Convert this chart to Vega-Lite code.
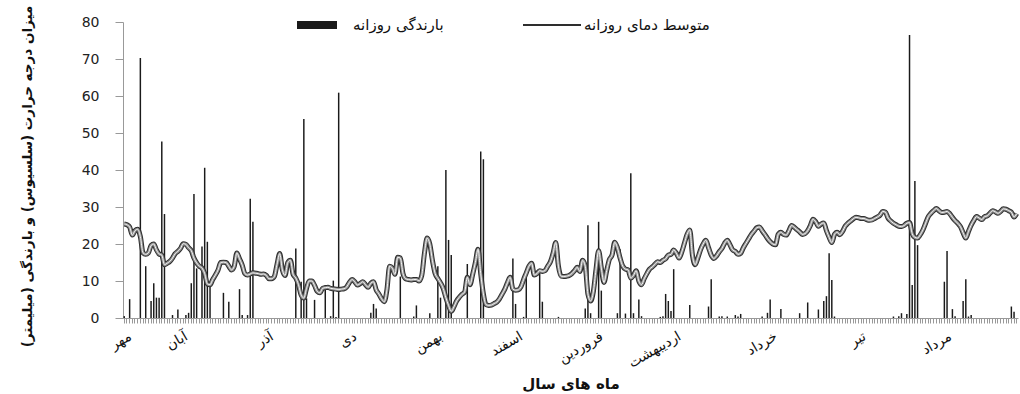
{
"$schema":"https://vega.github.io/schema/vega-lite/v6.json",
"autosize":"none","width":895,"height":296,
"padding":{"left":123,"top":22,"right":2,"bottom":76},
"background":"white",
"config":{"view":{"stroke":null},"font":"DejaVu Sans",
"axisY":{"values":[0,10,20,30,40,50,60,70,80],"labelOverlap":false,"grid":false,"domainColor":"#999","tickColor":"#999","tickSize":8,"labelPadding":16,
    "labelFont":"DejaVu Sans","labelFontSize":14,"labelColor":"#222",
    "titleFont":"DejaVu Sans","titleFontSize":13.5,"titleFontWeight":"bold","titleColor":"#111","titleX":-96,"titleY":154,"titleAlign":"center","titleBaseline":"middle","titleAngle":-90}},
"data":{"values":[
{"d":0,"t":25.4,"p":0.5},{"d":1,"t":25.2,"p":0},{"d":2,"t":24.6,"p":5.1},{"d":3,"t":22.4,"p":0},{"d":4,"t":23.6,"p":0},{"d":5,"t":24.0,"p":0},{"d":6,"t":22.0,"p":70.3},{"d":7,"t":17.6,"p":0},{"d":8,"t":17.2,"p":14},{"d":9,"t":17.6,"p":0},
{"d":10,"t":19.6,"p":4.6},{"d":11,"t":20.0,"p":9.4},{"d":12,"t":18.4,"p":5.5},{"d":13,"t":17.3,"p":5.5},{"d":14,"t":17.0,"p":47.7},{"d":15,"t":14.4,"p":28.1},{"d":16,"t":14.8,"p":0},{"d":17,"t":15.3,"p":0},{"d":18,"t":16.2,"p":0.8},{"d":19,"t":17.4,"p":0},
{"d":20,"t":18.0,"p":2.3},{"d":21,"t":18.8,"p":0},{"d":22,"t":20.1,"p":0},{"d":23,"t":19.9,"p":0.8},{"d":24,"t":19.0,"p":1.4},{"d":25,"t":18.2,"p":9.4},{"d":26,"t":16.2,"p":33.5},{"d":27,"t":14.9,"p":13.4},{"d":28,"t":14.0,"p":0},{"d":29,"t":13.5,"p":19.3},
{"d":30,"t":12.0,"p":40.6},{"d":31,"t":9.2,"p":20.6},{"d":32,"t":9.0,"p":9.5},{"d":33,"t":10.4,"p":0},{"d":34,"t":11.6,"p":0},{"d":35,"t":13.0,"p":0},{"d":36,"t":15.0,"p":0},{"d":37,"t":15.1,"p":6.8},{"d":38,"t":15.0,"p":0},{"d":39,"t":14.0,"p":4.4},
{"d":40,"t":13.0,"p":0},{"d":41,"t":13.9,"p":0},{"d":42,"t":17.6,"p":0},{"d":43,"t":16.0,"p":7.8},{"d":44,"t":14.3,"p":0.8},{"d":45,"t":12.0,"p":0},{"d":46,"t":11.6,"p":0.8},{"d":47,"t":11.9,"p":32.2},{"d":48,"t":12.2,"p":26},{"d":49,"t":12.1,"p":0},
{"d":50,"t":12.0,"p":0},{"d":51,"t":11.8,"p":0},{"d":52,"t":11.9,"p":0},{"d":53,"t":11.5,"p":0},{"d":54,"t":10.6,"p":0},{"d":55,"t":10.6,"p":0},{"d":56,"t":11.2,"p":0},{"d":57,"t":14.5,"p":0},{"d":58,"t":17.4,"p":0},{"d":59,"t":13.0,"p":0},
{"d":60,"t":11.5,"p":0},{"d":61,"t":15.0,"p":0},{"d":62,"t":15.6,"p":0},{"d":63,"t":11.8,"p":0},{"d":64,"t":10.8,"p":18.8},{"d":65,"t":9.0,"p":0},{"d":66,"t":6.2,"p":9.8},{"d":67,"t":5.4,"p":53.8},{"d":68,"t":8.0,"p":5.3},{"d":69,"t":10.0,"p":0},
{"d":70,"t":10.0,"p":0},{"d":71,"t":8.8,"p":4.9},{"d":72,"t":7.2,"p":0},{"d":73,"t":6.8,"p":0},{"d":74,"t":8.0,"p":0},{"d":75,"t":8.2,"p":8.9},{"d":76,"t":8.3,"p":0},{"d":77,"t":8.0,"p":0.5},{"d":78,"t":7.9,"p":10.1},{"d":79,"t":7.8,"p":0.3},
{"d":80,"t":7.7,"p":60.9},{"d":81,"t":7.8,"p":0},{"d":82,"t":7.9,"p":0},{"d":83,"t":8.4,"p":0},{"d":84,"t":9.6,"p":0},{"d":85,"t":10.4,"p":0},{"d":86,"t":9.8,"p":0},{"d":87,"t":8.9,"p":0},{"d":88,"t":9.3,"p":0},{"d":89,"t":9.8,"p":0},
{"d":90,"t":9.0,"p":0},{"d":91,"t":8.3,"p":0},{"d":92,"t":9.4,"p":1.4},{"d":93,"t":9.8,"p":3.8},{"d":94,"t":7.6,"p":2.6},{"d":95,"t":6.5,"p":0},{"d":96,"t":5.2,"p":0},{"d":97,"t":4.4,"p":0},{"d":98,"t":7.6,"p":0},{"d":99,"t":14.0,"p":0},
{"d":100,"t":13.5,"p":0},{"d":101,"t":11.8,"p":0},{"d":102,"t":16.4,"p":0},{"d":103,"t":16.2,"p":11.2},{"d":104,"t":12.0,"p":0},{"d":105,"t":10.6,"p":0},{"d":106,"t":10.4,"p":0},{"d":107,"t":10.3,"p":0},{"d":108,"t":10.4,"p":0.4},{"d":109,"t":10.4,"p":3.4},
{"d":110,"t":10.0,"p":0},{"d":111,"t":11.5,"p":0},{"d":112,"t":17.5,"p":0},{"d":113,"t":21.6,"p":0},{"d":114,"t":20.0,"p":1.3},{"d":115,"t":15.5,"p":0},{"d":116,"t":12.0,"p":0},{"d":117,"t":10.7,"p":14},{"d":118,"t":9.5,"p":5.5},{"d":119,"t":8.0,"p":0},
{"d":120,"t":5.5,"p":40},{"d":121,"t":3.4,"p":21.1},{"d":122,"t":1.8,"p":17},{"d":123,"t":3.0,"p":0},{"d":124,"t":4.6,"p":0},{"d":125,"t":5.6,"p":0},{"d":126,"t":6.4,"p":0},{"d":127,"t":7.0,"p":0},{"d":128,"t":11.0,"p":14.6},{"d":129,"t":9.0,"p":0},
{"d":130,"t":11.8,"p":0},{"d":131,"t":15.0,"p":0},{"d":132,"t":18.6,"p":0},{"d":133,"t":12.0,"p":45},{"d":134,"t":6.5,"p":42.9},{"d":135,"t":3.6,"p":0},{"d":136,"t":3.4,"p":0},{"d":137,"t":3.5,"p":0},{"d":138,"t":3.9,"p":0},{"d":139,"t":4.3,"p":0},
{"d":140,"t":5.2,"p":0},{"d":141,"t":6.5,"p":0},{"d":142,"t":7.8,"p":0},{"d":143,"t":9.6,"p":0},{"d":144,"t":11.0,"p":0},{"d":145,"t":7.8,"p":16.1},{"d":146,"t":7.5,"p":3.8},{"d":147,"t":7.6,"p":0},{"d":148,"t":8.4,"p":0},{"d":149,"t":10.4,"p":0.3},
{"d":150,"t":12.2,"p":13},{"d":151,"t":14.0,"p":0},{"d":152,"t":14.8,"p":0},{"d":153,"t":11.6,"p":0},{"d":154,"t":12.0,"p":0},{"d":155,"t":12.8,"p":12.1},{"d":156,"t":12.6,"p":4.4},{"d":157,"t":12.8,"p":0},{"d":158,"t":14.0,"p":0},{"d":159,"t":15.2,"p":0},
{"d":160,"t":17.5,"p":0},{"d":161,"t":20.4,"p":0},{"d":162,"t":14.0,"p":0.3},{"d":163,"t":11.3,"p":0},{"d":164,"t":11.2,"p":0},{"d":165,"t":11.3,"p":0},{"d":166,"t":11.5,"p":0},{"d":167,"t":12.0,"p":0},{"d":168,"t":12.8,"p":0},{"d":169,"t":13.7,"p":0},
{"d":170,"t":12.6,"p":0},{"d":171,"t":15.6,"p":0},{"d":172,"t":14.0,"p":2.6},{"d":173,"t":6.5,"p":25.1},{"d":174,"t":4.6,"p":1.3},{"d":175,"t":7.0,"p":0},{"d":176,"t":13.0,"p":0},{"d":177,"t":18.2,"p":26},{"d":178,"t":13.5,"p":7.4},{"d":179,"t":9.6,"p":0},
{"d":180,"t":12.8,"p":0},{"d":181,"t":15.8,"p":0},{"d":182,"t":17.0,"p":0},{"d":183,"t":20.5,"p":0},{"d":184,"t":19.0,"p":1.3},{"d":185,"t":16.2,"p":18.6},{"d":186,"t":14.0,"p":0},{"d":187,"t":13.2,"p":1.2},{"d":188,"t":13.0,"p":0},{"d":189,"t":10.8,"p":39.1},
{"d":190,"t":11.5,"p":1.3},{"d":191,"t":12.8,"p":0},{"d":192,"t":10.0,"p":5},{"d":193,"t":9.0,"p":0.5},{"d":194,"t":10.6,"p":0},{"d":195,"t":12.0,"p":0},{"d":196,"t":13.2,"p":0},{"d":197,"t":13.8,"p":0},{"d":198,"t":14.5,"p":0},{"d":199,"t":15.2,"p":0},
{"d":200,"t":15.0,"p":0.3},{"d":201,"t":15.6,"p":0.5},{"d":202,"t":16.0,"p":6.5},{"d":203,"t":17.0,"p":4.6},{"d":204,"t":17.2,"p":1.9},{"d":205,"t":18.4,"p":13.2},{"d":206,"t":17.5,"p":0},{"d":207,"t":16.2,"p":0},{"d":208,"t":17.8,"p":0},{"d":209,"t":20.2,"p":0},
{"d":210,"t":22.6,"p":0},{"d":211,"t":23.8,"p":3.5},{"d":212,"t":17.0,"p":0},{"d":213,"t":14.4,"p":0},{"d":214,"t":16.2,"p":0},{"d":215,"t":18.4,"p":0},{"d":216,"t":20.0,"p":0},{"d":217,"t":21.0,"p":0},{"d":218,"t":19.0,"p":3.1},{"d":219,"t":17.0,"p":10.5},
{"d":220,"t":16.1,"p":0},{"d":221,"t":16.8,"p":0},{"d":222,"t":17.9,"p":0.4},{"d":223,"t":18.8,"p":0.5},{"d":224,"t":20.2,"p":0},{"d":225,"t":21.0,"p":0.4},{"d":226,"t":19.8,"p":0},{"d":227,"t":18.4,"p":0},{"d":228,"t":18.0,"p":0.8},{"d":229,"t":17.2,"p":0.4},
{"d":230,"t":17.5,"p":1.1},{"d":231,"t":19.0,"p":0},{"d":232,"t":20.2,"p":0},{"d":233,"t":21.4,"p":0},{"d":234,"t":22.6,"p":0},{"d":235,"t":23.5,"p":0},{"d":236,"t":24.4,"p":0},{"d":237,"t":24.6,"p":0},{"d":238,"t":23.6,"p":0.4},{"d":239,"t":22.6,"p":0},
{"d":240,"t":21.5,"p":1.4},{"d":241,"t":20.6,"p":5},{"d":242,"t":20.0,"p":0},{"d":243,"t":19.8,"p":0},{"d":244,"t":22.6,"p":0},{"d":245,"t":23.2,"p":2.4},{"d":246,"t":22.6,"p":0},{"d":247,"t":22.4,"p":0},{"d":248,"t":23.6,"p":0},{"d":249,"t":25.0,"p":0},
{"d":250,"t":24.5,"p":0},{"d":251,"t":23.9,"p":0},{"d":252,"t":23.3,"p":1.3},{"d":253,"t":22.6,"p":0},{"d":254,"t":22.8,"p":0},{"d":255,"t":23.6,"p":4.2},{"d":256,"t":25.0,"p":0},{"d":257,"t":26.7,"p":0},{"d":258,"t":26.0,"p":0},{"d":259,"t":24.8,"p":2.3},
{"d":260,"t":25.4,"p":0},{"d":261,"t":25.7,"p":4.6},{"d":262,"t":23.6,"p":5.9},{"d":263,"t":21.8,"p":17.5},{"d":264,"t":20.4,"p":10.3},{"d":265,"t":22.6,"p":0.4},{"d":266,"t":23.2,"p":0},{"d":267,"t":22.5,"p":0},{"d":268,"t":23.4,"p":0},{"d":269,"t":24.8,"p":0},
{"d":270,"t":25.6,"p":0},{"d":271,"t":26.2,"p":0},{"d":272,"t":26.8,"p":0},{"d":273,"t":27.2,"p":0},{"d":274,"t":27.1,"p":0},{"d":275,"t":26.9,"p":0},{"d":276,"t":26.9,"p":0},{"d":277,"t":26.6,"p":0},{"d":278,"t":26.4,"p":0},{"d":279,"t":26.5,"p":0},
{"d":280,"t":26.9,"p":0},{"d":281,"t":27.3,"p":0},{"d":282,"t":27.8,"p":0},{"d":283,"t":28.8,"p":0},{"d":284,"t":28.6,"p":0},{"d":285,"t":27.0,"p":0},{"d":286,"t":26.2,"p":0},{"d":287,"t":25.6,"p":0.4},{"d":288,"t":25.2,"p":0},{"d":289,"t":24.8,"p":0.5},
{"d":290,"t":24.7,"p":1.3},{"d":291,"t":25.0,"p":0},{"d":292,"t":25.6,"p":1.1},{"d":293,"t":25.8,"p":76.5},{"d":294,"t":22.8,"p":8.9},{"d":295,"t":21.8,"p":37},{"d":296,"t":21.6,"p":19.7},{"d":297,"t":22.5,"p":0},{"d":298,"t":23.8,"p":0},{"d":299,"t":25.6,"p":0},
{"d":300,"t":27.4,"p":0},{"d":301,"t":28.3,"p":0},{"d":302,"t":29.0,"p":0},{"d":303,"t":29.6,"p":0},{"d":304,"t":29.0,"p":0},{"d":305,"t":28.5,"p":0},{"d":306,"t":28.6,"p":9.8},{"d":307,"t":28.8,"p":18.1},{"d":308,"t":28.2,"p":0},{"d":309,"t":27.2,"p":2.4},
{"d":310,"t":26.3,"p":0.5},{"d":311,"t":25.6,"p":0},{"d":312,"t":24.7,"p":0},{"d":313,"t":23.0,"p":4.6},{"d":314,"t":21.6,"p":10.5},{"d":315,"t":23.4,"p":0.4},{"d":316,"t":25.1,"p":0.8},{"d":317,"t":26.4,"p":0},{"d":318,"t":27.4,"p":0},{"d":319,"t":27.0,"p":0},
{"d":320,"t":26.6,"p":0},{"d":321,"t":27.4,"p":0},{"d":322,"t":27.6,"p":0},{"d":323,"t":28.3,"p":0},{"d":324,"t":29.0,"p":0},{"d":325,"t":28.7,"p":0},{"d":326,"t":28.3,"p":0},{"d":327,"t":28.8,"p":0},{"d":328,"t":29.5,"p":0},{"d":329,"t":29.4,"p":0},
{"d":330,"t":29.0,"p":0},{"d":331,"t":28.6,"p":3.1},{"d":332,"t":27.3,"p":1.7},{"d":333,"t":28.2,"p":0}
]},
"encoding":{
"x":{"field":"d","type":"ordinal","title":"ماه های سال",
"scale":{"paddingInner":0.45,"paddingOuter":0.2},
"axis":{"labelExpr":"datum.value==1?'مهر':datum.value==22?'آبان':datum.value==54?'آذر':datum.value==85?'دی':datum.value==117?'بهمن':datum.value==147?'اسفند':datum.value==177?'فروردین':datum.value==206?'اردیبهشت':datum.value==242?'خرداد':datum.value==275?'تیر':datum.value==307?'مرداد':''",
"labelAngle":-30,"labelAlign":"right","labelBaseline":"top","labelOverlap":false,"labelBound":false,"labelFlush":false,
"labelFont":"DejaVu Sans","labelFontSize":14,"labelColor":"#111","labelPadding":6,
"tickSize":5,"tickColor":"#999","tickWidth":1,"domainColor":"#999","grid":false,
"titleFont":"DejaVu Sans","titleFontSize":15,"titleFontWeight":"bold","titleColor":"#111","titleY":65,"titleBaseline":"middle"}}
},
"layer":[
{"mark":{"type":"bar"},
 "encoding":{
  "y":{"field":"p","type":"quantitative","title":"میزان درجه حرارت (سلسیوس) و بارندگی (میلیمتر)",
   "scale":{"domain":[0,80],"nice":false}},
  "fill":{"datum":"بارندگی روزانه","type":"nominal","scale":{"range":["#1a1a1a"]},
   "legend":{"orient":"none","legendX":174,"legendY":-17,"title":null,"padding":0,
    "symbolType":"M-1,-0.2H1V0.2H-1Z","symbolSize":1600,"symbolStrokeWidth":0,
    "labelFont":"DejaVu Sans","labelFontSize":15,"labelColor":"#111","labelOffset":16}}
 }},
{"mark":{"type":"line","interpolate":"monotone","strokeWidth":5},
 "encoding":{
  "y":{"field":"t","type":"quantitative","title":"میزان درجه حرارت (سلسیوس) و بارندگی (میلیمتر)"},
  "stroke":{"datum":"متوسط دمای روزانه","type":"nominal","scale":{"range":["#2e2e2e"]},
   "legend":{"orient":"none","legendX":399,"legendY":-27,"title":null,"padding":0,
    "symbolType":"M-1,0H1","symbolSize":3364,"symbolStrokeWidth":2,
    "labelFont":"DejaVu Sans","labelFontSize":15,"labelColor":"#111","labelOffset":2}}
 }},
{"mark":{"type":"line","interpolate":"monotone","strokeWidth":3,"color":"#8f8f8f"},
 "encoding":{"y":{"field":"t","type":"quantitative","title":"میزان درجه حرارت (سلسیوس) و بارندگی (میلیمتر)"}}},
{"mark":{"type":"line","interpolate":"monotone","strokeWidth":1,"color":"#f4f4f4"},
 "encoding":{"y":{"field":"t","type":"quantitative","title":"میزان درجه حرارت (سلسیوس) و بارندگی (میلیمتر)"}}}
]
}
